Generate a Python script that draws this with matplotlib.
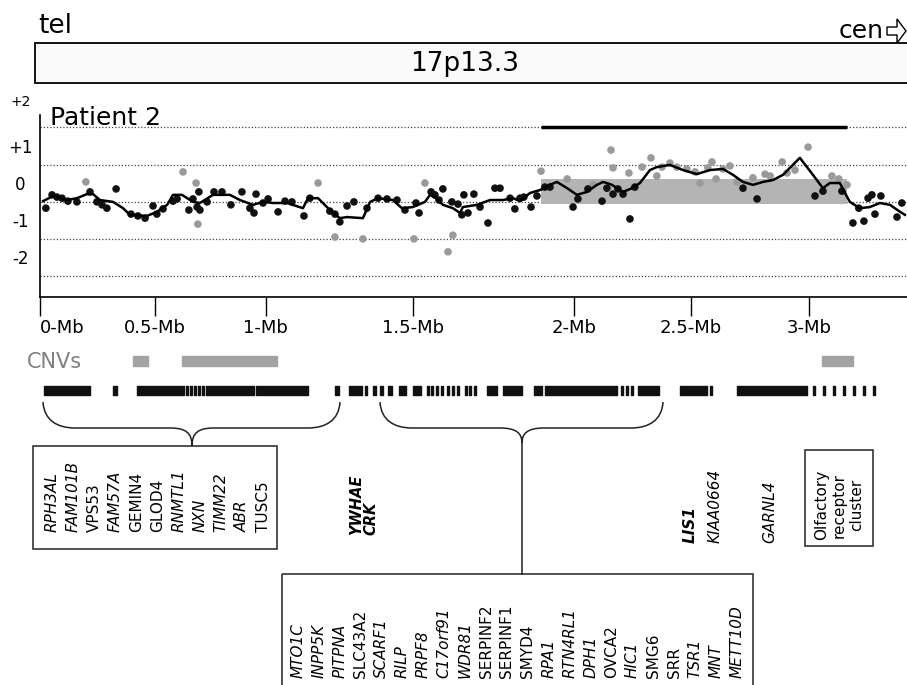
import matplotlib
matplotlib.use("Agg")
import matplotlib.pyplot as plt
from matplotlib.patches import Rectangle, Polygon, PathPatch
from matplotlib.path import Path

# --- data (positions in Mb, values in log2 ratio) ---
tick_pos = [0, 0.45, 0.88, 1.455, 2.085, 2.54, 3.0]
tick_labels = ['0-Mb', '0.5-Mb', '1-Mb', '1.5-Mb', '2-Mb', '2.5-Mb', '3-Mb']
y_ticks = [1, 0, -1, -2]
y_tick_labels = ['+1', '0', '-1', '-2']
grid_levels = [1.5, 0.5, -0.5, -1.5, -2.5]

black_x = [0.023, 0.047, 0.066, 0.086, 0.109, 0.144, 0.195, 0.222, 0.242, 0.261, 0.297, 0.355,
           0.382, 0.410, 0.441, 0.456, 0.480, 0.519, 0.535, 0.581, 0.597, 0.613, 0.620, 0.624,
           0.652, 0.679, 0.710, 0.745, 0.788, 0.819, 0.835, 0.843, 0.870, 0.890, 0.929, 0.956,
           0.983, 1.030, 1.053, 1.131, 1.151, 1.170, 1.198, 1.225, 1.276, 1.319, 1.354, 1.393,
           1.424, 1.467, 1.479, 1.526, 1.541, 1.557, 1.572, 1.607, 1.631, 1.646, 1.654, 1.670,
           1.693, 1.717, 1.748, 1.775, 1.795, 1.834, 1.853, 1.873, 1.888, 1.916, 1.939, 1.970,
           1.990, 2.080, 2.099, 2.138, 2.193, 2.212, 2.236, 2.255, 2.275, 2.302, 2.321, 2.743,
           2.798, 3.024, 3.055, 3.129, 3.172, 3.195, 3.215, 3.231, 3.246, 3.258, 3.281, 3.344, 3.363]
black_y = [-0.68, -0.32, -0.38, -0.41, -0.49, -0.51, -0.24, -0.51, -0.59, -0.68, -0.16, -0.84,
           -0.89, -0.95, -0.62, -0.84, -0.70, -0.49, -0.43, -0.73, -0.43, -0.65, -0.24, -0.73,
           -0.51, -0.24, -0.24, -0.59, -0.24, -0.68, -0.81, -0.30, -0.54, -0.43, -0.78, -0.49,
           -0.51, -0.89, -0.41, -0.76, -0.84, -1.05, -0.62, -0.51, -0.68, -0.41, -0.43, -0.46,
           -0.73, -0.54, -0.81, -0.24, -0.32, -0.46, -0.16, -0.51, -0.57, -0.86, -0.32, -0.81,
           -0.30, -0.65, -1.08, -0.14, -0.14, -0.41, -0.70, -0.41, -0.38, -0.65, -0.35, -0.11,
           -0.11, -0.65, -0.43, -0.16, -0.49, -0.14, -0.30, -0.16, -0.30, -0.97, -0.11, -0.14,
           -0.43, -0.35, -0.22, -0.22, -1.08, -0.68, -1.03, -0.41, -0.32, -0.84, -0.35, -0.92, -0.54]

gray_x = [0.179, 0.558, 0.609, 0.616, 1.085, 1.151, 1.260, 1.459, 1.502, 1.592, 1.611,
          1.955, 2.057, 2.158, 2.228, 2.236, 2.298, 2.349, 2.384, 2.407, 2.427, 2.458, 2.485,
          2.524, 2.556, 2.575, 2.606, 2.622, 2.638, 2.665, 2.692, 2.720, 2.782, 2.829, 2.849,
          2.896, 2.915, 2.946, 2.997, 3.090, 3.117, 3.149]
gray_y = [0.03, 0.30, 0.0, -1.11, 0.0, -1.46, -1.51, -1.51, 0.0, -1.86, -1.41,
          0.32, 0.11, -0.05, 0.89, 0.41, 0.27, 0.43, 0.68, 0.19, 0.43, 0.54, 0.43,
          0.38, 0.30, 0.0, 0.41, 0.57, 0.11, 0.38, 0.46, 0.03, 0.14, 0.24, 0.19,
          0.57, 0.27, 0.35, 0.97, 0.19, 0.11, -0.05]

avg_x = [0.012, 0.051, 0.105, 0.144, 0.183, 0.207, 0.234, 0.285, 0.324, 0.351, 0.417, 0.456,
         0.496, 0.519, 0.554, 0.597, 0.624, 0.675, 0.741, 0.780, 0.831, 0.870, 0.909, 0.964,
         1.026, 1.046, 1.085, 1.131, 1.170, 1.198, 1.260, 1.288, 1.319, 1.377, 1.412, 1.455,
         1.502, 1.522, 1.549, 1.572, 1.611, 1.639, 1.650, 1.705, 1.756, 1.806, 1.846, 1.873,
         1.912, 1.951, 1.990, 2.017, 2.057, 2.095, 2.134, 2.173, 2.197, 2.232, 2.275, 2.310,
         2.341, 2.380, 2.407, 2.458, 2.509, 2.563, 2.614, 2.665, 2.704, 2.743, 2.782, 2.821,
         2.860, 2.899, 2.965, 3.016, 3.055, 3.082, 3.121, 3.141, 3.160, 3.199, 3.238, 3.277,
         3.317, 3.356, 3.375]
avg_y = [-0.49, -0.35, -0.46, -0.41, -0.30, -0.30, -0.46, -0.51, -0.68, -0.86, -0.89, -0.78,
         -0.59, -0.32, -0.32, -0.51, -0.54, -0.32, -0.32, -0.46, -0.59, -0.51, -0.54, -0.54,
         -0.68, -0.41, -0.41, -0.73, -0.95, -0.92, -0.95, -0.51, -0.41, -0.46, -0.68, -0.65,
         -0.51, -0.32, -0.43, -0.59, -0.68, -0.81, -0.65, -0.59, -0.46, -0.46, -0.41, -0.49,
         -0.27, -0.19, -0.05, 0.03, -0.14, -0.32, -0.24, -0.05, 0.03, -0.05, -0.24, -0.14,
         0.0, 0.35, 0.43, 0.49, 0.35, 0.24, 0.35, 0.38, 0.22, 0.03, -0.05, 0.03,
         0.08, 0.22, 0.68, 0.22, -0.14, 0.0, 0.0, -0.27, -0.51, -0.68, -0.65, -0.54,
         -0.59, -0.78, -0.86]

# duplicated region (gain call)
gain_start, gain_end = 1.955, 3.149
gain_low, gain_high = -0.58, 0.12

cnv_ranges = [(0.363, 0.421), (0.554, 0.925), (3.051, 3.172)]
gene_blocks = [(0.016, 0.195), (0.285, 0.300), (0.378, 0.562), (0.648, 0.835), (0.854, 1.046),
               (1.151, 1.167), (1.206, 1.256), (1.268, 1.276), (1.299, 1.311), (1.327, 1.338),
               (1.358, 1.373), (1.401, 1.428), (1.455, 1.487), (1.744, 1.783), (1.806, 1.881),
               (1.970, 2.251), (2.333, 2.415), (2.497, 2.602), (2.719, 2.993)]
gene_thin = [0.570, 0.585, 0.601, 0.616, 0.632, 0.843, 1.510, 1.526, 1.545, 1.565, 1.588,
             1.607, 1.627, 1.658, 1.674, 1.693, 1.927, 1.939, 1.951, 2.267, 2.286, 2.306,
             2.614, 3.016, 3.055, 3.094, 3.133, 3.172, 3.211, 3.250]

genes_box1 = ['RPH3AL', 'FAM101B', 'VPS53', 'FAM57A', 'GEMIN4', 'GLOD4', 'RNMTL1',
              'NXN', 'TIMM22', 'ABR', 'TUSC5']
genes_box2 = ['MTO1C', 'INPP5K', 'PITPNA', 'SLC43A2', 'SCARF1', 'RILP', 'PRPF8', 'C17orf91',
              'WDR81', 'SERPINF2', 'SERPINF1', 'SMYD4', 'RPA1', 'RTN4RL1', 'DPH1', 'OVCA2',
              'HIC1', 'SMG6', 'SRR', 'TSR1', 'MNT', 'METT10D']
upright = {'VPS53', 'GEMIN4', 'GLOD4', 'TUSC5', 'SLC43A2', 'SERPINF2', 'SERPINF1',
           'SMYD4', 'OVCA2', 'SMG6', 'SRR'}

W, H = 907, 685
fig = plt.figure(figsize=(W / 100, H / 100), dpi=100)
plt.rcParams['font.family'] = 'DejaVu Sans'

# overlay in pixel coordinates for the annotations
ov = fig.add_axes([0, 0, 1, 1])
ov.set_xlim(0, W)
ov.set_ylim(H, 0)
ov.axis('off')

# --- top: ideogram band ---
ov.text(38, 33, 'tel', fontsize=19, va='baseline', ha='left')
ov.text(884, 38, 'cen', fontsize=18, va='baseline', ha='right')
ov.add_patch(Polygon([(887, 27), (897, 27), (897, 19), (906, 31), (897, 43), (897, 35), (887, 35)],
                     closed=True, facecolor='white', edgecolor='black', lw=1))
ov.add_patch(Rectangle((35, 43), 900, 40, facecolor='#fafafa', edgecolor='black', lw=1.3))
ov.text(465, 64, '17p13.3', fontsize=19, ha='center', va='center')

# --- main log-ratio plot ---
x_max = 3.383
y_bot, y_top = -3.08, 2.243
ax = fig.add_axes([40 / W, (H - 297) / H, (W - 40) / W, (297 - 100) / H])
ax.set_facecolor('none')
ax.set_xlim(0, x_max)
ax.set_ylim(y_bot, y_top)
for lvl in grid_levels:
    ax.axhline(lvl, color='#444444', lw=0.9, ls=(0, (1, 1.6)), zorder=1)
ax.fill_between([gain_start, gain_end], gain_low, gain_high, color='#b4b4b4', lw=0, zorder=1.5)
ax.hlines(1.5, gain_start, gain_end, color='black', lw=2.5, zorder=2)
ax.scatter(gray_x, gray_y, s=30, color='#9a9a9a', edgecolors='none', zorder=3)
ax.scatter(black_x, black_y, s=30, color='#111111', edgecolors='none', zorder=3)
ax.plot(avg_x, avg_y, color='black', lw=1.8, zorder=4)

for side in ['top', 'right']:
    ax.spines[side].set_visible(False)
ax.spines['left'].set_bounds(y_bot, 1.85)
ax.spines['left'].set_linewidth(1.2)
ax.spines['bottom'].set_linewidth(1.2)
ax.set_xticks(tick_pos)
ax.set_xticklabels(tick_labels, fontsize=13)
ax.get_xticklabels()[0].set_ha('left')
ax.get_xticklabels()[0].set_x(-0.045)
ax.tick_params(axis='x', direction='out', length=14, width=1, pad=2)
ax.set_yticks(y_ticks)
ax.set_yticklabels(y_tick_labels, fontsize=12, ha='center')
ax.tick_params(axis='y', length=0, pad=14)
ax.text(-0.075, 2.19, '+2', fontsize=10, ha='center', va='center', clip_on=False)
ax.text(0.04, 1.57, 'Patient 2', fontsize=18, ha='left', va='baseline')

# --- CNV and gene track (same Mb scale) ---
tr = fig.add_axes([40 / W, (H - 400) / H, (W - 40) / W, 50 / H])
tr.set_facecolor('none')
tr.set_xlim(0, x_max)
tr.set_ylim(0, 50)
tr.axis('off')
tr.broken_barh([(a, b - a) for a, b in cnv_ranges], (34, 10), color='#a3a3a3')
tr.broken_barh([(a, b - a) for a, b in gene_blocks], (5, 9), color='#111111')
tr.broken_barh([(p, 0.007) for p in gene_thin], (5, 9), color='#111111')
ov.text(27, 362, 'CNVs', fontsize=15, color='#808080', ha='left', va='center')


# --- braces ---
def brace(x0, x1, xm, y0=402, ymid=428, ytip=443):
    verts = [(x0, y0), (x0 + 1, y0 + 18), (x0 + 14, ymid), (x0 + 32, ymid),
             (xm - 22, ymid),
             (xm - 6, ymid), (xm, ymid + 5), (xm, ytip),
             (xm, ymid + 5), (xm + 6, ymid), (xm + 22, ymid),
             (x1 - 32, ymid),
             (x1 - 14, ymid), (x1 - 1, y0 + 18), (x1, y0)]
    codes = [Path.MOVETO, Path.CURVE4, Path.CURVE4, Path.CURVE4, Path.LINETO,
             Path.CURVE4, Path.CURVE4, Path.CURVE4, Path.CURVE4, Path.CURVE4, Path.CURVE4,
             Path.LINETO, Path.CURVE4, Path.CURVE4, Path.CURVE4]
    ov.add_patch(PathPatch(Path(verts, codes), facecolor='none', edgecolor='#222222', lw=1.1))


brace(43, 340, 192, ytip=446)
brace(380, 663, 522)
ov.plot([522, 522], [443, 574], color='#222222', lw=1.1)

# --- gene boxes ---
ov.add_patch(Rectangle((33, 446), 244, 103, facecolor='none', edgecolor='#222222', lw=1.1))
for i, g in enumerate(genes_box1):
    ov.text(52 + 21.1 * i, 532, g, rotation=90, fontsize=11, ha='center', va='bottom',
            style='normal' if g in upright else 'italic')

ov.add_patch(Rectangle((282, 574), 471, 140, facecolor='none', edgecolor='#222222', lw=1.1))
for i, g in enumerate(genes_box2):
    ov.text(298 + 20.9 * i, 678, g, rotation=90, fontsize=11, ha='center', va='bottom',
            style='normal' if g in upright else 'italic')

ov.text(364, 535, 'YWHAE\nCRK', rotation=90, fontsize=10.5, ha='center', va='bottom',
        multialignment='left', linespacing=0.95, style='italic', weight='bold')
ov.text(690, 543, 'LIS1', rotation=90, fontsize=11, ha='center', va='bottom',
        style='italic', weight='bold')
ov.text(715, 543, 'KIAA0664', rotation=90, fontsize=11, ha='center', va='bottom', style='italic')
ov.text(770, 543, 'GARNL4', rotation=90, fontsize=11, ha='center', va='bottom', style='italic')

ov.add_patch(Rectangle((805, 450), 68, 96, facecolor='none', edgecolor='#222222', lw=1.1))
ov.text(839, 505, 'Olfactory\nreceptor\ncluster', rotation=90, fontsize=11,
        ha='center', va='center', multialignment='center', linespacing=1.2)

fig.savefig('out.png', dpi=100)
